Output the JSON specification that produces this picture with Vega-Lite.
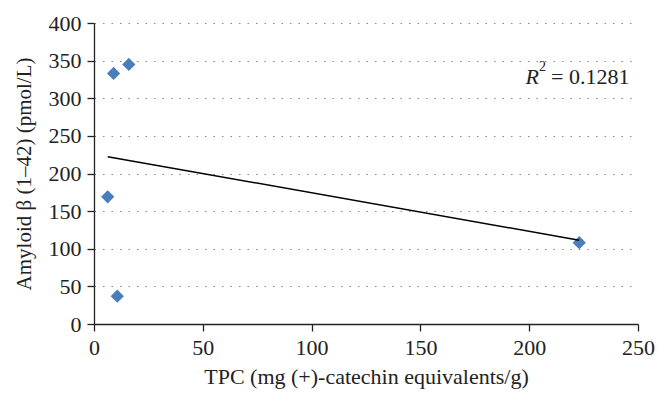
{
  "$schema": "https://vega.github.io/schema/vega-lite/v6.json",
  "width": 544,
  "height": 301,
  "autosize": {"type": "none"},
  "padding": {"left": 94, "top": 23, "right": 28, "bottom": 82},
  "background": "white",
  "config": {
    "view": {"stroke": null},
    "font": "Liberation Serif"
  },
  "data": {
    "values": [
      {"tpc": 6.3, "amyloid": 169},
      {"tpc": 9, "amyloid": 333},
      {"tpc": 10.7, "amyloid": 37},
      {"tpc": 16, "amyloid": 345},
      {"tpc": 223, "amyloid": 108}
    ]
  },
  "encoding": {
    "x": {
      "field": "tpc", "type": "quantitative",
      "scale": {"domain": [0, 250], "nice": false},
      "axis": {"values": [0, 50, 100, 150, 200, 250], "grid": false, "title": "TPC (mg (+)-catechin equivalents/g)",
        "titlePadding": 8, "labelPadding": 6, "labelFont": "Liberation Serif", "titleFont": "Liberation Serif",
        "labelFontSize": 22, "titleFontSize": 22, "titleFontWeight": "normal", "labelColor": "#222", "titleColor": "#222",
        "domainColor": "#222", "tickColor": "#222", "domainWidth": 1.3, "tickWidth": 1.3, "tickSize": 7, "labelFlush": false}
    },
    "y": {
      "field": "amyloid", "type": "quantitative",
      "scale": {"domain": [0, 400], "nice": false},
      "axis": {"values": [0, 50, 100, 150, 200, 250, 300, 350, 400], "grid": true, "gridColor": "#888", "gridDash": [1.5, 7], "gridWidth": 1.2,
        "title": "Amyloid β (1–42) (pmol/L)", "titlePadding": 14, "labelPadding": 6, "labelFont": "Liberation Serif", "titleFont": "Liberation Serif",
        "labelFontSize": 22, "titleFontSize": 21, "titleFontWeight": "normal", "labelColor": "#222", "titleColor": "#222",
        "domainColor": "#222", "tickColor": "#222", "domainWidth": 1.3, "tickWidth": 1.3, "tickSize": 7, "labelFlush": false, "labelOverlap": false}
    }
  },
  "layer": [
    {
      "mark": {"type": "point", "shape": "diamond", "filled": true, "size": 175, "color": "#4A7EBB", "opacity": 1}
    },
    {
      "transform": [{"regression": "amyloid", "on": "tpc"}],
      "mark": {"type": "line", "color": "black", "strokeWidth": 1.5}
    },
    {
      "data": {"values": [{"tpc": 204.5, "amyloid": 328, "t": "R"}]},
      "mark": {"type": "text", "align": "right", "baseline": "middle", "fontStyle": "italic", "fontSize": 22, "font": "Liberation Serif", "color": "#222"},
      "encoding": {"text": {"field": "t"}}
    },
    {
      "data": {"values": [{"tpc": 204.5, "amyloid": 328, "t": "2"}]},
      "mark": {"type": "text", "align": "left", "baseline": "middle", "fontSize": 14, "dx": 0, "dy": -10, "font": "Liberation Serif", "color": "#222"},
      "encoding": {"text": {"field": "t"}}
    },
    {
      "data": {"values": [{"tpc": 204.5, "amyloid": 328, "t": "= 0.1281"}]},
      "mark": {"type": "text", "align": "left", "baseline": "middle", "fontSize": 22, "dx": 12, "font": "Liberation Serif", "color": "#222"},
      "encoding": {"text": {"field": "t"}}
    }
  ]
}
